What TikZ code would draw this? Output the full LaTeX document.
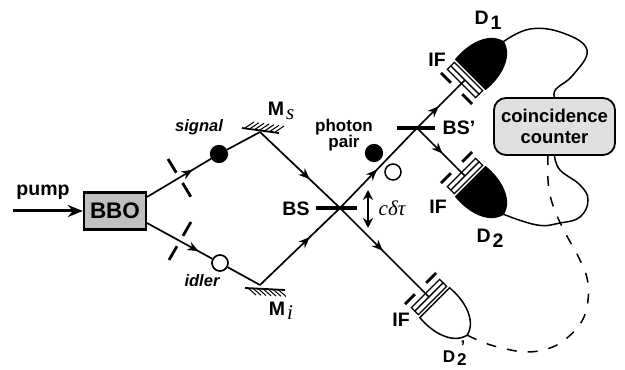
\documentclass[tikz,border=0pt]{standalone}
\usepackage{fontspec}
\setmainfont{Liberation Sans}
\newfontfamily\serifit{Liberation Serif}
\usetikzlibrary{arrows.meta, decorations.markings}
\newcommand{\sublab}[2]{#1\hspace{2pt}\raisebox{-5pt}{#2}}
\newcommand{\mirlab}[2]{#1\hspace{2pt}\raisebox{-4pt}{{\fontsize{21}{22}\selectfont\serifit\itshape\mdseries #2}}}
\tikzset{
  lab/.style={font=\fontsize{19.5}{20}\selectfont\bfseries, inner sep=0pt, align=center},
  wavelab/.style={font=\fontsize{16.5}{18}\selectfont\bfseries\itshape, inner sep=0pt, align=center},
  beam/.style={line width=1.7pt},
  wire/.style={line width=1.5pt},
  slit/.style={line width=2.8pt, dash pattern=on 16pt off 12pt},
  bsbar/.style={line width=3.6pt},
  arrowat/.style={postaction={decorate}, decoration={markings,
    mark=at position #1 with {\arrow{Stealth[length=11pt,width=9pt,inset=3.5pt]}}}},
  pics/detunit/.style={code={
    \draw[line width=1.5pt, fill=#1] (8,21) .. controls (27,23) and (50,17) .. (54,0)
      .. controls (50,-17) and (27,-23) .. (8,-21) -- cycle;
    \draw[line width=1.3pt, fill=white] (-5,-20) rectangle (0,20);
    \draw[line width=1.3pt, fill=white] (0,-20) rectangle (5,20);
    \draw[line width=2.8pt] (-12,8) -- (-12,22) (-12,-8) -- (-12,-22);
    \coordinate (-in) at (0,0);
    \coordinate (-tip) at (54,0);
  }}
}
\begin{document}
\begin{tikzpicture}[x=1pt, y=1pt]
  \useasboundingbox (0,0) rectangle (625,370);

  \coordinate (pumpin) at (13,159);
  \coordinate (sigout) at (147,173);
  \coordinate (idlout) at (147,147);
  \coordinate (ms) at (260,238);
  \coordinate (mi) at (260,85);
  \coordinate (bs) at (340,162);
  \coordinate (bsp) at (417,242);

  \node[draw, line width=2.4pt, fill=black!25, minimum width=62pt, minimum height=37pt,
    inner sep=0pt, font=\fontsize{22.5}{23}\selectfont\bfseries] (bbo) at (115,159) {BBO};
  \node[draw, line width=1.8pt, rounded corners=12pt, fill=black!12, minimum width=121pt,
    minimum height=57pt, inner sep=0pt, align=center,
    font=\fontsize{18.5}{21}\selectfont\bfseries] (cc) at (554.5,243.5) {coincidence\\counter};

  \pic (done) at (465,290) [rotate=45] {detunit=black};
  \pic (dtwo) at (465,194) [rotate=-45] {detunit=black};
  \pic (dthree) at (429,73) [rotate=-45] {detunit=white};

  \node[circle, draw, line width=1.2pt, fill=black, minimum size=17pt, inner sep=0pt] (sigdot) at (219,216) {};
  \node[circle, draw, line width=1.7pt, fill=white, minimum size=16pt, inner sep=0pt] (idldot) at (220,107) {};
  \node[circle, draw, line width=1.2pt, fill=black, minimum size=17pt, inner sep=0pt] (pairfull) at (374,217) {};
  \node[circle, draw, line width=1.5pt, fill=white, minimum size=16pt, inner sep=0pt] (pairopen) at (393,198) {};

  \draw[line width=3pt, -{Stealth[length=15pt,width=12pt,inset=5pt]}] (pumpin) -- (bbo.west);
  \draw[beam, arrowat=.71] (sigout) -- (sigdot);
  \draw[beam, arrowat=.79] (idlout) -- (idldot);
  \draw[beam] (sigdot) -- (ms);
  \draw[beam] (idldot) -- (mi);
  \draw[beam, arrowat=.62] (ms) -- (bs);
  \draw[beam, arrowat=.62] (mi) -- (bs);
  \draw[beam, arrowat=.48] (bs) -- (bsp);
  \draw[beam, arrowat=.45] (bsp) -- (done-in);
  \draw[beam, arrowat=.53] (bsp) -- (dtwo-in);
  \draw[beam, arrowat=.48] (bs) -- (dthree-in);

  \draw[slit] (168,211) -- (191,173);
  \draw[slit] (191,148) -- (169,110);
  \draw[bsbar] (316,162) -- (357,162);
  \draw[bsbar] (397,242) -- (435,242);
  \draw[line width=1.5pt, {Stealth[length=10pt,width=10pt]}-{Stealth[length=10pt,width=10pt]}] (368,180) -- (368,142);

  \draw[line width=1.8pt] (242,242) -- (279,237);
  \foreach \x in {0,...,6} {
    \draw[line width=1pt] (245+5*\x,242-.67*\x) -- +(9,6);
  }
  \draw[line width=1.8pt] (245,82) -- (285,80);
  \foreach \x in {0,...,6} {
    \draw[line width=1pt] (248+5*\x,82-.25*\x) -- +(8,-7);
  }

  \draw[wire] plot[smooth, tension=.7] coordinates {(done-tip) (530,341) (563,337) (587,320) (573,295) (556,281) (cc.north)};
  \draw[wire] plot[smooth, tension=.7] coordinates {(cc.south) (560,200) (580,185) (588,170) (580,153) (560,147) (537,145) (dtwo-tip)};
  \draw[wire, dash pattern=on 10pt off 11pt] plot[smooth, tension=.7] coordinates {(548,215) (548,190) (551,171) (558,152) (568,132) (578,114) (587,92) (588,70) (582,49) (567,32) (550,22) (528,18) (506,21) (485,27) (dthree-tip)};

  \node[lab] (pumplab) at (43,178) {pump};
  \node[wavelab] (siglab) at (199,243) {signal};
  \node[wavelab] (idllab) at (202,89) {idler};
  \node[lab] (mslab) at (281,259) {\mirlab{M}{s}};
  \node[lab] (milab) at (281,59) {\mirlab{M}{i}};
  \node[lab] (bslab) at (296,161) {BS};
  \node[lab] (bsplab) at (459,242) {BS'};
  \node[wavelab, font=\fontsize{17}{16}\selectfont\bfseries] (pairlab) at (344,235) {photon\\pair};
  \node[font=\fontsize{21}{22}\selectfont\serifit\itshape, inner sep=0pt] (delaylab) at (392,162) {cδτ};
  \node[lab] (ifone) at (437,310) {IF};
  \node[lab] (iftwo) at (438,163) {IF};
  \node[lab] (ifthree) at (401,50) {IF};
  \node[lab] (donelab) at (488,350) {\sublab{D}{1}};
  \node[lab] (dtwolab) at (490,132) {\sublab{D}{2}};
  \node[lab, font=\fontsize{17}{18}\selectfont\bfseries] (dthreelab) at (454,17) {D\hspace{2pt}\raisebox{-3pt}{2}\hspace{-6pt}\raisebox{10pt}{'}};
\end{tikzpicture}
\end{document}
